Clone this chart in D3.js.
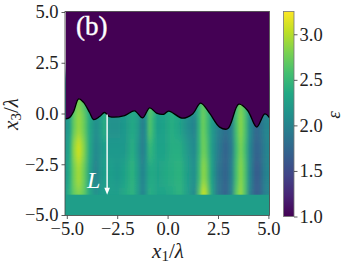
<!DOCTYPE html>
<html>
<head>
<meta charset="utf-8">
<script src="https://cdn.jsdelivr.net/npm/d3@7"></script>
<style>
    html, body { margin: 0; padding: 0; background: #fff; overflow: hidden; }
    text { font-family: "Liberation Serif", serif; fill: #222; }
</style>
</head>
<body>
<svg id="chart"></svg>
<script>
const svg_width = 347, svg_height = 267;

// Поверхность: x1/lambda и x3/lambda
const surface_x = [-5.05, -4.86, -4.66, -4.41, -4.17, -3.87, -3.67, -3.37, -3.13, -2.88, -2.13, -1.64, -1.24, -0.89, -0.55, -0.2, 0.05, 0.74, 1.24, 1.64, 2.08, 2.58, 2.98, 3.53, 3.97, 4.42, 4.82, 5.05];
const surface_y = [-0.27, -0.2, 0.1, 0.72, 0.55, 0.05, -0.3, -0.15, 0.05, -0.15, -0.1, 0.13, -0.22, 0.28, 0.02, -0.04, 0.12, -0.23, -0.02, 0.51, 0.02, -0.67, -0.75, 0.46, 0.15, -0.67, -0.02, -0.2];

// Колонки и строки поля epsilon
const column_x = [-5.11, -4.86, -4.66, -4.41, -4.17, -3.87, -3.57, -3.37, -3.13, -2.88, -2.48, -2.13, -1.74, -1.49, -1.24, -1.09, -0.89, -0.69, -0.5, -0.15, 0.2, 0.6, 0.99, 1.34, 1.59, 1.74, 1.88, 2.18, 2.48, 2.88, 3.17, 3.42, 3.62, 3.82, 4.07, 4.37, 4.56, 4.81, 5.05];
const row_y = [0.9, -0.7, -1.8, -2.8, -4.5];
const eps_row0 = [2.15, 2.25, 2.6, 2.8, 2.65, 2.3, 2.15, 2.25, 2.45, 2.15, 2.15, 2.2, 2.35, 2.3, 2.0, 2.15, 2.65, 2.55, 2.25, 2.25, 2.4, 2.35, 2.2, 2.15, 2.5, 2.7, 2.6, 2.3, 2.1, 2.0, 2.1, 2.55, 2.75, 2.6, 2.2, 1.85, 1.9, 2.05, 2.05];
const eps_row1 = [2.1, 2.25, 2.7, 2.9, 2.75, 2.35, 2.1, 2.2, 2.4, 2.15, 2.15, 2.2, 2.35, 2.25, 1.95, 2.1, 2.65, 2.45, 2.25, 2.3, 2.4, 2.3, 2.1, 2.0, 2.5, 2.75, 2.65, 2.25, 2.0, 1.8, 1.95, 2.6, 2.85, 2.65, 2.1, 1.75, 1.8, 2.0, 2.05];
const eps_row2 = [2.15, 2.35, 2.85, 3.1, 2.85, 2.35, 2.05, 2.15, 2.25, 2.2, 2.2, 2.2, 2.4, 2.2, 1.95, 2.1, 2.5, 2.4, 2.3, 2.3, 2.4, 2.4, 2.2, 2.05, 2.5, 2.75, 2.7, 2.25, 1.95, 1.7, 1.9, 2.55, 2.8, 2.6, 2.05, 1.7, 1.75, 1.95, 2.05];
const eps_row3 = [2.15, 2.4, 2.75, 2.95, 2.75, 2.3, 2.0, 2.15, 2.25, 2.25, 2.2, 2.3, 2.45, 2.25, 2.0, 2.15, 2.35, 2.35, 2.3, 2.35, 2.4, 2.45, 2.25, 2.1, 2.55, 2.85, 2.8, 2.3, 1.9, 1.7, 1.95, 2.6, 2.85, 2.65, 2.05, 1.65, 1.7, 1.95, 2.05];
const eps_row4 = [2.2, 2.45, 2.7, 2.8, 2.7, 2.35, 2.15, 2.2, 2.25, 2.25, 2.25, 2.35, 2.45, 2.25, 2.0, 2.15, 2.4, 2.35, 2.3, 2.3, 2.35, 2.45, 2.25, 2.05, 2.7, 3.05, 3.0, 2.35, 1.9, 1.7, 2.0, 2.7, 2.9, 2.65, 2.0, 1.65, 1.7, 1.95, 2.05];
const eps_rows = [eps_row0, eps_row1, eps_row2, eps_row3, eps_row4];

const substrate_eps = 2.25;
const arrow_x = -3, arrow_from = -0.05, arrow_to = -4;

const x_ticks = [-5, -2.5, 0, 2.5, 5];
const y_ticks = [5, 2.5, 0, -2.5, -5];
const bar_ticks = [1, 1.5, 2, 2.5, 3];

const svg = d3.select("#chart")
    .attr("width", svg_width)
    .attr("height", svg_height);

const x = d3.scaleLinear().domain([-5, 5]).range([66.8, 268.4]);
const y = d3.scaleLinear().domain([5, -5]).range([12, 215]);
const bar_y = d3.scaleLinear().domain([1, 3.25]).range([216.5, 11.5]);
const color = d3.scaleSequential(d3.interpolateViridis).domain([1, 3.25]);

const left = 65, right = 269.5, top_y = 11.5, bottom = 215.5;
const format_tick = d => d3.format(".1f")(d).replace("-", "\u2212");

const defs = svg.append("defs");
defs.append("clipPath").attr("id", "plot_clip")
    .append("rect")
    .attr("x", left).attr("y", top_y)
    .attr("width", right - left).attr("height", bottom - top_y);

// Размытие в основном по вертикали, чтобы строки сливались
const blur = defs.append("filter").attr("id", "row_blur")
    .attr("filterUnits", "userSpaceOnUse")
    .attr("x", 0).attr("y", 0).attr("width", svg_width).attr("height", svg_height);
blur.append("feGaussianBlur").attr("stdDeviation", "1 6");

const plot = svg.append("g").attr("clip-path", "url(#plot_clip)");

// Градиент на каждую строку
const field = plot.append("g").attr("filter", "url(#row_blur)");
eps_rows.forEach((row, i) => {
    const grad = defs.append("linearGradient")
        .attr("id", "row_" + i)
        .attr("gradientUnits", "userSpaceOnUse")
        .attr("x1", x(-5.11)).attr("x2", x(5.05))
        .attr("y1", 0).attr("y2", 0);
    grad.selectAll("stop").data(row).join("stop")
        .attr("offset", (d, j) => (column_x[j] + 5.11) / 10.16)
        .attr("stop-color", d => color(d));
    const y0 = i === 0 ? 2 : (row_y[i - 1] + row_y[i]) / 2;
    const y1 = i === eps_rows.length - 1 ? -5 : (row_y[i] + row_y[i + 1]) / 2;
    field.append("rect")
        .attr("x", left - 6).attr("width", right - left + 12)
        .attr("y", y(y0)).attr("height", y(y1) - y(y0))
        .attr("fill", `url(#row_${i})`);
});

// Подложка
plot.append("rect")
    .attr("x", left).attr("width", right - left)
    .attr("y", y(-4)).attr("height", bottom - y(-4))
    .attr("fill", color(substrate_eps));

// Вакуум над поверхностью
const surface = d3.range(surface_x.length).map(i => ({x: surface_x[i], y: surface_y[i]}));
const area = d3.area()
    .x(d => x(d.x)).y0(top_y - 2).y1(d => y(d.y))
    .curve(d3.curveCatmullRom.alpha(0.5));
plot.append("path").attr("d", area(surface)).attr("fill", color(1));

const line = d3.line()
    .x(d => x(d.x)).y(d => y(d.y))
    .curve(d3.curveCatmullRom.alpha(0.5));
plot.append("path").attr("d", line(surface))
    .attr("fill", "none").attr("stroke", "#000").attr("stroke-width", 1.3);

// Стрелка L
plot.append("line")
    .attr("x1", x(arrow_x)).attr("x2", x(arrow_x))
    .attr("y1", y(arrow_from)).attr("y2", y(arrow_to) - 4)
    .attr("stroke", "#fff").attr("stroke-width", 1.4);
plot.append("path")
    .attr("d", d3.line()([[x(arrow_x) - 2.8, y(arrow_to) - 7], [x(arrow_x) + 2.8, y(arrow_to) - 7], [x(arrow_x), y(arrow_to)]]))
    .attr("fill", "#fff");

svg.append("text").attr("x", 87).attr("y", 188)
    .attr("font-size", 24).attr("font-style", "italic")
    .style("fill", "#fff").text("L");
svg.append("text").attr("x", 76).attr("y", 35)
    .attr("font-size", 27)
    .attr("stroke", "#fff").attr("stroke-width", 0.4)
    .style("fill", "#fff").text("(b)");

// Оси
function style_axis(g) {
    g.selectAll(".domain").remove();
    g.selectAll(".tick line").attr("stroke", "#333").attr("stroke-width", 0.8);
    g.selectAll(".tick text").attr("font-size", 18.5).attr("font-family", null).attr("fill", null);
}

svg.append("g")
    .attr("transform", `translate(0, ${bottom})`)
    .call(d3.axisBottom(x).tickValues(x_ticks).tickFormat(format_tick).tickSize(3.5).tickPadding(3))
    .call(style_axis);

svg.append("g")
    .attr("transform", `translate(${left}, 0)`)
    .call(d3.axisLeft(y).tickValues(y_ticks).tickFormat(format_tick).tickSize(3.5).tickPadding(3))
    .call(style_axis);

svg.append("rect")
    .attr("x", left).attr("y", top_y)
    .attr("width", right - left).attr("height", bottom - top_y)
    .attr("fill", "none").attr("stroke", "#444").attr("stroke-width", 0.8);

// Подписи осей
const x_label = svg.append("text").attr("x", 168).attr("y", 258)
    .attr("text-anchor", "middle").attr("font-size", 21);
x_label.append("tspan").attr("font-style", "italic").text("x");
x_label.append("tspan").attr("font-size", 15).attr("dy", 3).text("1");
x_label.append("tspan").attr("dy", -3).text("/");
x_label.append("tspan").attr("font-style", "italic").text("\u03bb");

const y_label = svg.append("text")
    .attr("transform", "translate(18, 114) rotate(-90)")
    .attr("text-anchor", "middle").attr("font-size", 21);
y_label.append("tspan").attr("font-style", "italic").text("x");
y_label.append("tspan").attr("font-size", 15).attr("dy", 3).text("3");
y_label.append("tspan").attr("dy", -3).text("/");
y_label.append("tspan").attr("font-style", "italic").text("\u03bb");

// Цветовая шкала
const bar_left = 283.5, bar_width = 10.5;
const bar_grad = defs.append("linearGradient")
    .attr("id", "bar_grad")
    .attr("x1", 0).attr("x2", 0).attr("y1", 1).attr("y2", 0);
bar_grad.selectAll("stop").data(d3.range(0, 1.01, 0.1)).join("stop")
    .attr("offset", d => d)
    .attr("stop-color", d => d3.interpolateViridis(d));

svg.append("rect")
    .attr("x", bar_left).attr("y", bar_y(3.25))
    .attr("width", bar_width).attr("height", bar_y(1) - bar_y(3.25))
    .attr("fill", "url(#bar_grad)")
    .attr("stroke", "#777").attr("stroke-width", 0.8);

svg.append("g")
    .attr("transform", `translate(${bar_left + bar_width}, 0)`)
    .call(d3.axisRight(bar_y).tickValues(bar_ticks).tickFormat(format_tick).tickSize(3.5).tickPadding(2))
    .call(style_axis);

svg.append("text")
    .attr("transform", "translate(340, 115) rotate(-90)")
    .attr("text-anchor", "middle").attr("font-size", 19)
    .attr("font-style", "italic").text("\u03b5");
</script>
</body>
</html>
